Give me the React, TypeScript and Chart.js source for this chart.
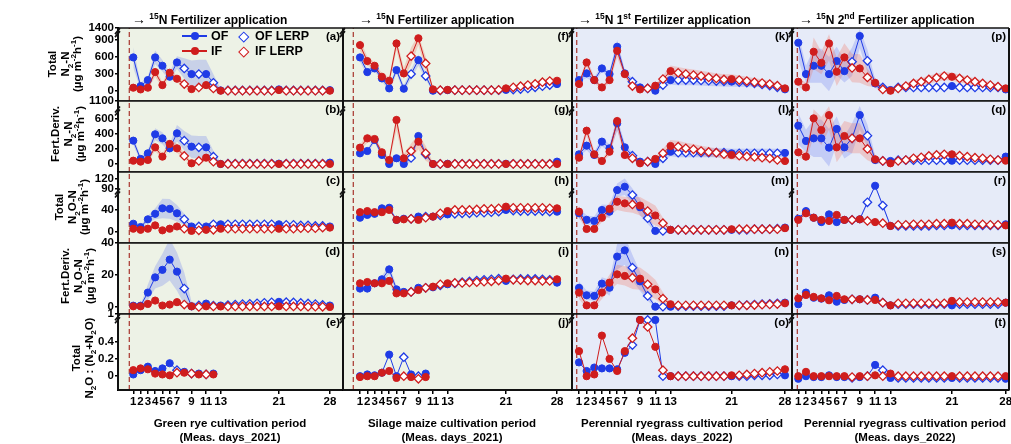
import React, { useEffect, useRef } from "react";
import { Chart, registerables } from "chart.js";
Chart.register(...registerables);

const FONT = "'Liberation Sans', Arial, Helvetica, sans-serif";
const OF_COLOR = "#1f3be6";
const IF_COLOR = "#cf1d1d";
const OF_BAND = "rgba(90,110,240,0.25)";
const IF_BAND = "rgba(240,110,90,0.28)";
const BG_2021 = "#edf2e6";
const BG_2022 = "#e6ebf8";

// ---------------- data ----------------
const DAYS = [1, 2, 3, 4, 5, 6, 7, 8, 9, 10, 11, 12, 13, 14, 15, 16, 17, 18, 19, 20, 21, 22, 23, 24, 25, 26, 27, 28];
const DAYS_E = [1, 2, 3, 4, 5, 6, 7, 8, 9, 10, 11, 12];
const DAYS_J = [1, 2, 3, 4, 5, 6, 7, 8, 9, 10];
const MEAS = [1, 2, 3, 4, 5, 6, 7, 9, 11, 13, 21, 28];
const MEAS_E = [1, 2, 3, 4, 5, 6, 8, 10, 12];
const MEAS_J = [1, 2, 3, 4, 5, 6, 8, 10];
const X_TICKS = [1, 2, 3, 4, 5, 6, 7, 9, 11, 13, 21, 28];
const FERT_DAY = [0.45, 0.08, 0.7, 0.87];

const Y_TICKS = [
  [0, 300, 600, 900, 1400],
  [0, 200, 400, 600, 1100],
  [0, 40, 90, 120],
  [0, 20, 40],
  [0, 0.2, 0.4, 1],
];

// (a) Green rye - Total N2-N
const a_OF = [584, 82, 187, 584, 438, 245, 496, 391, 292, 292, 292, 140, 5, 5, 5, 5, 5, 5, 5, 5, 23, 5, 5, 5, 5, 5, 5, 10];
const a_IF = [53, 23, 53, 327, 99, 315, 210, 117, 29, 58, 99, 41, 0, 0, 0, 0, 0, 0, 0, 0, 12, 0, 0, 0, 0, 0, 0, 0];
const a_OFsd = [180, 60, 60, 120, 100, 80, 110, 180, 240, 250, 250, 150, 30, 15, 15, 15, 15, 15, 15, 15, 15, 15, 15, 15, 15, 15, 15, 15];
const a_IFsd = [30, 20, 30, 80, 50, 60, 60, 50, 30, 30, 30, 20, 10, 5, 5, 5, 5, 5, 5, 5, 5, 5, 5, 5, 5, 5, 5, 5];
// (b)
const b_OF = [311, 67, 142, 396, 342, 209, 409, 311, 231, 222, 222, 98, 0, 5, 5, 5, 5, 5, 5, 5, 5, 5, 5, 5, 5, 5, 5, 18];
const b_IF = [44, 31, 53, 222, 98, 267, 209, 107, 9, 40, 84, 31, 0, 0, 0, 0, 0, 0, 0, 0, 0, 0, 0, 0, 0, 0, 0, 0];
const b_OFsd = [60, 30, 40, 80, 80, 60, 110, 130, 150, 150, 150, 80, 20, 10, 10, 10, 10, 10, 10, 10, 10, 10, 10, 10, 10, 10, 10, 10];
const b_IFsd = [20, 20, 30, 50, 40, 60, 60, 40, 20, 20, 20, 15, 5, 5, 5, 5, 5, 5, 5, 5, 5, 5, 5, 5, 5, 5, 5, 5];
// (c)
const c_OF = [15, 9, 23, 33, 43, 42, 34, 23, 10, 10, 10, 14, 14, 14, 14, 14, 14, 14, 14, 14, 14, 13, 13, 12, 12, 11, 11, 10];
const c_IF = [6, 4, 6, 12, 3, 6, 10, 6, 2, 3, 4, 4, 6, 6, 6, 6, 6, 6, 6, 6, 6, 6, 6, 7, 7, 7, 8, 8];
const c_OFsd = [4, 3, 6, 10, 18, 18, 15, 10, 4, 3, 3, 3, 3, 2, 2, 2, 2, 2, 2, 2, 2, 2, 2, 2, 2, 2, 2, 2];
const c_IFsd = [2, 2, 2, 3, 2, 2, 3, 2, 1, 1, 1, 1, 1, 1, 1, 1, 1, 1, 1, 1, 1, 1, 1, 1, 1, 1, 1, 1];
// (d)
const d_OF = [0.8, 0.8, 9, 18.5, 23.2, 29.6, 22.1, 11.5, 0.4, 1, 2.1, 0.9, 0.9, 1.2, 1.5, 1.8, 2, 2.3, 2.6, 2.9, 3.2, 3, 2.8, 2.5, 2.2, 1.8, 1.3, 0.9];
const d_IF = [0.4, 0.4, 1.9, 4, 0.9, 1.5, 3, 1.5, 0.4, 0, 0.4, 0.3, 0.3, 0.3, 0.3, 0.3, 0.3, 0.3, 0.3, 0.3, 0.4, 0.3, 0.3, 0.3, 0.2, 0.2, 0.1, 0];
const d_OFsd = [0.5, 0.5, 5, 7, 10, 13, 12, 10, 3, 1, 1, 0.5, 0.5, 0.5, 0.5, 0.5, 0.5, 0.5, 0.5, 0.5, 0.5, 0.5, 0.5, 0.5, 0.5, 0.5, 0.5, 0.5];
const d_IFsd = [0.5, 0.5, 1, 1.5, 0.8, 1, 1, 0.8, 0.4, 0.4, 0.4, 0.4, 0.4, 0.4, 0.4, 0.4, 0.4, 0.4, 0.4, 0.4, 0.4, 0.4, 0.4, 0.4, 0.4, 0.4, 0.4, 0.4];
// (e)
const e_OF = [0.02, 0.07, 0.11, 0.06, 0.09, 0.15, 0.07, 0.05, 0.03, 0.03, 0.02, 0.03];
const e_IF = [0.07, 0.09, 0.08, 0.03, 0.02, 0.01, 0.04, 0.04, 0.03, 0.02, 0.02, 0.02];

// (f) Silage maize
const f_OF = [584, 327, 391, 216, 41, 362, 35, 292, 537, 257, 0, 5, 10, 10, 10, 10, 10, 10, 10, 10, 15, 20, 30, 40, 60, 80, 100, 117];
const f_IF = [800, 520, 438, 245, 175, 829, 304, 607, 950, 479, 23, 10, 15, 10, 10, 10, 10, 10, 10, 15, 41, 60, 80, 100, 120, 150, 170, 175];
const f_OFsd = [80, 60, 50, 50, 60, 60, 60, 80, 100, 60, 20, 10, 10, 10, 10, 10, 10, 10, 10, 10, 15, 20, 30, 30, 40, 40, 40, 40];
const f_IFsd = [100, 80, 60, 60, 60, 120, 100, 150, 150, 120, 30, 10, 10, 10, 10, 10, 10, 10, 10, 10, 20, 30, 40, 40, 40, 50, 50, 50];
// (g)
const g_OF = [142, 173, 320, 120, 0, 76, 0, 80, 373, 129, 0, 0, 3, 3, 3, 3, 3, 3, 3, 3, 3, 3, 3, 3, 3, 3, 3, 31];
const g_IF = [218, 342, 333, 156, 53, 587, 76, 173, 298, 142, 0, 0, 0, 0, 0, 0, 0, 0, 0, 0, 0, 0, 0, 0, 0, 0, 0, 0];
const g_OFsd = [20, 30, 30, 30, 20, 40, 30, 50, 60, 50, 10, 5, 5, 5, 5, 5, 5, 5, 5, 5, 5, 5, 5, 5, 5, 5, 5, 5];
const g_IFsd = [40, 60, 40, 40, 30, 140, 60, 100, 100, 100, 20, 10, 5, 5, 5, 5, 5, 5, 5, 5, 5, 5, 5, 5, 5, 5, 5, 5];
// (h)
const h_OF = [26, 31, 33, 43, 44, 22, 24, 24, 28, 28, 28, 30, 32, 33, 34, 34, 35, 35, 36, 37, 40, 39, 38, 38, 38, 38, 37, 37];
const h_IF = [36, 38, 36, 36, 40, 22, 23, 24, 22, 26, 28, 34, 38, 40, 40, 40, 41, 42, 42, 43, 46, 44, 44, 44, 44, 44, 43, 43];
const h_OFsd = [3, 2, 2, 2, 3, 2, 2, 2, 2, 2, 2, 2, 2, 2, 2, 2, 2, 2, 2, 2, 2, 2, 2, 2, 2, 2, 2, 2];
const h_IFsd = [2, 2, 2, 2, 2, 2, 2, 2, 2, 2, 2, 2, 2, 2, 2, 2, 2, 2, 2, 2, 2, 2, 2, 2, 2, 2, 2, 2];
// (i)
const i_OF = [11.5, 11.5, 14.8, 17.3, 23.5, 11, 9.4, 9.4, 12, 12, 12.3, 13.5, 14.2, 14.8, 15.5, 16, 16.5, 17, 17.3, 17.7, 16.3, 17.3, 17.5, 17.5, 17.5, 17.3, 17, 15.2];
const i_IF = [14.8, 15.6, 14.8, 14.8, 16.3, 8.5, 8.5, 9.4, 10.6, 12, 12.7, 14.2, 14.8, 15, 15, 15.3, 15.5, 15.8, 16, 16.5, 17.7, 17, 16.8, 16.5, 16.5, 16.3, 16.3, 17.3];
const i_OFsd = [1.5, 1.5, 1.5, 2, 3, 2, 1.5, 1.5, 1.5, 1.5, 1.5, 1.5, 1.5, 1, 1, 1, 1, 1, 1, 1, 1, 1, 1, 1, 1, 1, 1, 1];
const i_IFsd = [1.5, 1.5, 1.5, 1.5, 2, 1.5, 1.5, 1.5, 1.5, 1, 1, 1, 1, 1, 1, 1, 1, 1, 1, 1, 1, 1, 1, 1, 1, 1, 1, 1];
// (j)
const j_OF = [0.0, 0.02, 0.01, 0.04, 0.25, 0.0, 0.22, 0.02, 0.0, 0.03];
const j_IF = [-0.01, 0.0, 0.0, 0.04, 0.06, -0.02, 0.0, -0.01, -0.03, -0.01];

// (k) Perennial ryegrass 1st
const k_OF = [187, 304, 187, 391, 292, 771, 304, 158, 58, 41, 0, 99, 187, 187, 187, 187, 180, 175, 170, 165, 160, 150, 140, 130, 110, 90, 60, 25];
const k_IF = [117, 496, 187, 58, 187, 700, 292, 82, 23, 41, 88, 204, 344, 315, 292, 274, 257, 234, 216, 198, 204, 187, 170, 150, 135, 117, 88, 41];
const k_OFsd = [40, 80, 50, 60, 50, 120, 60, 50, 30, 20, 20, 40, 80, 90, 90, 90, 90, 90, 90, 90, 90, 80, 70, 60, 50, 40, 30, 20];
const k_IFsd = [30, 80, 60, 30, 50, 120, 60, 40, 20, 20, 30, 60, 100, 100, 100, 100, 95, 95, 90, 90, 85, 80, 75, 70, 65, 60, 50, 40];
// (l)
const l_OF = [129, 244, 120, 298, 209, 542, 222, 111, 31, 31, 0, 76, 164, 150, 150, 150, 150, 150, 150, 150, 142, 142, 142, 142, 142, 142, 142, 147];
const l_IF = [84, 444, 129, 40, 164, 573, 120, 76, 9, 31, 67, 142, 240, 231, 209, 195, 173, 160, 150, 130, 120, 111, 100, 93, 84, 75, 53, 40];
const l_OFsd = [30, 60, 40, 60, 50, 100, 50, 40, 20, 15, 15, 40, 60, 60, 60, 60, 60, 60, 60, 60, 60, 60, 60, 60, 60, 60, 60, 40];
const l_IFsd = [30, 70, 50, 20, 50, 120, 40, 30, 15, 20, 30, 60, 80, 80, 75, 70, 70, 65, 60, 60, 60, 55, 50, 50, 45, 40, 30, 20];
// (m)
const m_OF = [34, 22, 20, 40, 37, 87, 97, 72, 45, 25, 2, 2, 4, 4, 4, 4, 4, 4, 4, 4, 4, 4, 4, 5, 5, 5, 6, 8];
const m_IF = [37, 5.5, 5.5, 26, 42, 55, 52, 50, 48, 38, 30, 16, 4, 4, 4, 4, 4, 4, 4, 4, 5, 5, 5, 5, 5, 5, 5, 7];
const m_OFsd = [10, 8, 8, 10, 12, 20, 25, 20, 15, 10, 3, 2, 1, 1, 1, 1, 1, 1, 1, 1, 1, 1, 1, 1, 1, 1, 1, 1];
const m_IFsd = [10, 4, 4, 8, 12, 15, 15, 15, 18, 18, 18, 10, 2, 1, 1, 1, 1, 1, 1, 1, 1, 1, 1, 1, 1, 1, 1, 1];
// (n)
const n_OF = [12, 7.3, 6.9, 14.6, 12, 31.5, 35.4, 24.6, 16, 6.9, 0.2, 0.2, 0.2, 0.5, 0.5, 0.5, 0.5, 0.5, 0.5, 0.5, 1, 1, 1.2, 1.5, 1.8, 2, 2.3, 2.7];
const n_IF = [9, 1, 1, 9, 15.2, 20.4, 19.4, 18.3, 17.7, 14.2, 11, 5.2, 1.7, 1, 1, 1, 1, 1, 1, 1, 1, 1, 1, 1.2, 1.4, 1.6, 1.8, 2.3];
const n_OFsd = [4, 3, 3, 4, 5, 8, 9, 8, 6, 3, 0.5, 0.5, 0.5, 0.5, 0.5, 0.5, 0.5, 0.5, 0.5, 0.5, 0.5, 0.5, 0.5, 0.5, 0.5, 0.5, 0.5, 0.5];
const n_IFsd = [4, 2, 2, 4, 5, 6, 6, 7, 7, 7, 6, 4, 1, 0.5, 0.5, 0.5, 0.5, 0.5, 0.5, 0.5, 0.5, 0.5, 0.5, 0.5, 0.5, 0.5, 0.5, 0.5];
// (o)
const o_OF = [0.16, 0.06, 0.1, 0.09, 0.09, 0.08, 0.27, 0.36, 0.77, 0.77, 0.77, 0.0, 0.0, 0.0, 0.0, 0.0, 0.0, 0.0, 0.0, 0.0, 0.0, 0.0, 0.0, 0.01, 0.01, 0.01, 0.02, 0.01];
const o_IF = [0.29, 0.0, 0.02, 0.47, 0.2, 0.06, 0.29, 0.44, 0.77, 0.57, 0.34, 0.07, 0.0, 0.0, 0.0, 0.0, 0.0, 0.0, 0.0, 0.0, 0.01, 0.01, 0.02, 0.03, 0.04, 0.05, 0.06, 0.08];

// (p) Perennial ryegrass 2nd
const p_OF = [841, 292, 438, 438, 292, 520, 344, 508, 1050, 525, 128, 58, 12, 58, 58, 58, 58, 58, 58, 58, 82, 58, 58, 58, 58, 58, 58, 23];
const p_IF = [158, 58, 683, 490, 829, 333, 584, 400, 391, 234, 140, 23, 0, 41, 82, 128, 158, 198, 228, 257, 245, 216, 187, 158, 128, 99, 70, 41];
const p_OFsd = [300, 150, 300, 300, 300, 250, 200, 250, 300, 200, 80, 40, 20, 30, 30, 30, 30, 30, 30, 30, 30, 30, 30, 30, 30, 30, 30, 20];
const p_IFsd = [80, 80, 300, 200, 300, 250, 250, 250, 250, 150, 80, 30, 10, 40, 50, 60, 60, 70, 70, 70, 70, 70, 60, 60, 50, 50, 40, 30];
// (q)
const q_OF = [511, 307, 342, 342, 218, 467, 222, 342, 711, 378, 53, 40, 40, 50, 50, 50, 50, 50, 50, 50, 44, 50, 50, 50, 50, 50, 50, 98];
const q_IF = [156, 98, 618, 453, 707, 222, 373, 342, 342, 200, 62, 40, 9, 40, 53, 76, 89, 107, 120, 129, 129, 111, 98, 84, 76, 62, 53, 44];
const q_OFsd = [250, 150, 250, 250, 250, 200, 150, 200, 250, 150, 60, 20, 15, 20, 20, 20, 20, 20, 20, 20, 20, 20, 20, 20, 20, 20, 20, 20];
const q_IFsd = [60, 60, 250, 200, 250, 200, 200, 200, 200, 150, 60, 20, 10, 20, 25, 30, 30, 35, 35, 35, 35, 35, 30, 30, 25, 25, 20, 20];
// (r)
const r_OF = [24, 38, 26, 18, 32, 18, 22, 22, 23, 54, 100, 48, 11, 11, 11, 11, 11, 11, 12, 12, 12, 12, 12, 12, 12, 12, 12, 14];
const r_IF = [22, 34, 26, 22, 20, 31, 22, 22, 23, 20, 18, 16, 11, 13, 13, 14, 14, 14, 15, 15, 17, 15, 15, 14, 14, 13, 13, 12];
const r_OFsd = [3, 4, 3, 3, 3, 3, 3, 3, 3, 3, 3, 3, 2, 2, 2, 2, 2, 2, 2, 2, 2, 2, 2, 2, 2, 2, 2, 2];
const r_IFsd = [3, 4, 3, 3, 3, 4, 4, 4, 4, 4, 3, 3, 2, 2, 2, 2, 2, 2, 2, 2, 2, 2, 2, 2, 2, 2, 2, 2];
// (s)
const s_OF = [1.7, 9, 5.8, 5.2, 7.3, 3.3, 4.4, 4.8, 4.8, 4.4, 5.8, 2.7, 1, 1.7, 1.7, 1.7, 1.7, 1.7, 1.7, 1.7, 1, 1.7, 1.7, 1.7, 1.7, 1.7, 1.7, 2.7];
const s_IF = [5.4, 7.5, 6.3, 5.4, 4.2, 6.9, 4.8, 4.8, 4.8, 4.4, 4.4, 2.7, 1, 2.3, 2.3, 2.3, 2.3, 2.3, 2.3, 2.3, 3.8, 3.1, 3.1, 3.1, 3.1, 3.1, 3.1, 2.7];
const s_OFsd = [1, 1, 1, 1, 1, 1, 1, 1, 1, 1, 1, 1, 1, 1, 1, 1, 1, 1, 1, 1, 1, 1, 1, 1, 1, 1, 1, 1];
const s_IFsd = [1, 1, 1, 1, 1, 1, 1, 1, 1, 1, 1, 1, 1, 1, 1, 1, 1, 1, 1, 1, 1, 1, 1, 1, 1, 1, 1, 1];
// (t)
const t_OF = [-0.03, 0.0, -0.01, -0.01, 0.01, -0.01, -0.01, -0.02, -0.01, 0.0, 0.13, 0.07, -0.02, -0.02, -0.02, -0.02, -0.02, -0.02, -0.02, -0.02, -0.02, -0.02, -0.02, -0.02, -0.02, -0.02, -0.02, -0.03];
const t_IF = [0.0, 0.05, 0.0, 0.0, 0.0, 0.0, 0.0, -0.01, 0.0, 0.0, 0.01, 0.0, 0.03, 0.0, 0.0, 0.0, 0.0, 0.0, 0.0, 0.0, 0.0, 0.0, 0.0, 0.0, 0.0, 0.0, 0.0, 0.0];

// ---------------- layout / scale config ----------------
const COL_X = [[118, 343], [343, 572], [572, 792], [792, 1009]];
const ROW_Y = [[28, 101], [101, 172], [172, 243], [243, 314], [314, 390]];
const X_RANGE = [[-1.1, 29.8], [-1.33, 30.05], [0.08, 28.92], [0.18, 28.43]];
const Y_RANGE = [[-180, 1100], [-107, 840], [-20, 109], [-4.4, 40], [-0.16, 0.72]];
const BREAK_D = [1010, 700, 70, null, 0.66];
// broken-axis display transforms (one per row)
const TRANSFORMS = [
  (v: number) => (v <= 900 ? v : 900 + (v - 900) * 0.4),
  (v: number) => (v <= 600 ? v : 600 + (v - 600) * 0.48),
  (v: number) => (v <= 60 ? v : 60 + (v - 60) * 0.6),
  (v: number) => v,
  (v: number) => (v <= 0.6 ? v : 0.6 + (v - 0.6) * 0.3),
];

type PanelSpec = {
  id: string; col: number; row: number;
  of: number[]; inf: number[]; ofSd: number[] | null; ifSd: number[] | null;
  days: number[]; meas: number[];
};

const PANELS: PanelSpec[] = [
  { id: "a", col: 0, row: 0, of: a_OF, inf: a_IF, ofSd: a_OFsd, ifSd: a_IFsd, days: DAYS, meas: MEAS },
  { id: "b", col: 0, row: 1, of: b_OF, inf: b_IF, ofSd: b_OFsd, ifSd: b_IFsd, days: DAYS, meas: MEAS },
  { id: "c", col: 0, row: 2, of: c_OF, inf: c_IF, ofSd: c_OFsd, ifSd: c_IFsd, days: DAYS, meas: MEAS },
  { id: "d", col: 0, row: 3, of: d_OF, inf: d_IF, ofSd: d_OFsd, ifSd: d_IFsd, days: DAYS, meas: MEAS },
  { id: "e", col: 0, row: 4, of: e_OF, inf: e_IF, ofSd: null, ifSd: null, days: DAYS_E, meas: MEAS_E },
  { id: "f", col: 1, row: 0, of: f_OF, inf: f_IF, ofSd: f_OFsd, ifSd: f_IFsd, days: DAYS, meas: MEAS },
  { id: "g", col: 1, row: 1, of: g_OF, inf: g_IF, ofSd: g_OFsd, ifSd: g_IFsd, days: DAYS, meas: MEAS },
  { id: "h", col: 1, row: 2, of: h_OF, inf: h_IF, ofSd: h_OFsd, ifSd: h_IFsd, days: DAYS, meas: MEAS },
  { id: "i", col: 1, row: 3, of: i_OF, inf: i_IF, ofSd: i_OFsd, ifSd: i_IFsd, days: DAYS, meas: MEAS },
  { id: "j", col: 1, row: 4, of: j_OF, inf: j_IF, ofSd: null, ifSd: null, days: DAYS_J, meas: MEAS_J },
  { id: "k", col: 2, row: 0, of: k_OF, inf: k_IF, ofSd: k_OFsd, ifSd: k_IFsd, days: DAYS, meas: MEAS },
  { id: "l", col: 2, row: 1, of: l_OF, inf: l_IF, ofSd: l_OFsd, ifSd: l_IFsd, days: DAYS, meas: MEAS },
  { id: "m", col: 2, row: 2, of: m_OF, inf: m_IF, ofSd: m_OFsd, ifSd: m_IFsd, days: DAYS, meas: MEAS },
  { id: "n", col: 2, row: 3, of: n_OF, inf: n_IF, ofSd: n_OFsd, ifSd: n_IFsd, days: DAYS, meas: MEAS },
  { id: "o", col: 2, row: 4, of: o_OF, inf: o_IF, ofSd: null, ifSd: null, days: DAYS, meas: MEAS },
  { id: "p", col: 3, row: 0, of: p_OF, inf: p_IF, ofSd: p_OFsd, ifSd: p_IFsd, days: DAYS, meas: MEAS },
  { id: "q", col: 3, row: 1, of: q_OF, inf: q_IF, ofSd: q_OFsd, ifSd: q_IFsd, days: DAYS, meas: MEAS },
  { id: "r", col: 3, row: 2, of: r_OF, inf: r_IF, ofSd: r_OFsd, ifSd: r_IFsd, days: DAYS, meas: MEAS },
  { id: "s", col: 3, row: 3, of: s_OF, inf: s_IF, ofSd: s_OFsd, ifSd: s_IFsd, days: DAYS, meas: MEAS },
  { id: "t", col: 3, row: 4, of: t_OF, inf: t_IF, ofSd: null, ifSd: null, days: DAYS, meas: MEAS },
];

const TICK_FONT = { family: FONT, size: 11.5, weight: "bold" as const };

function buildDatasets(p: PanelSpec) {
  const T = TRANSFORMS[p.row];
  const ds: any[] = [];
  const band = (vals: number[], sd: number[] | null, color: string, order: number) => {
    if (!sd) return;
    ds.push({
      data: p.days.map((d, i) => ({ x: d, y: T(vals[i] + sd[i]) })),
      borderWidth: 0, borderColor: "transparent", pointRadius: 0, fill: false, order,
    });
    ds.push({
      data: p.days.map((d, i) => ({ x: d, y: T(vals[i] - sd[i]) })),
      borderWidth: 0, borderColor: "transparent", pointRadius: 0, fill: "-1", backgroundColor: color, order,
    });
  };
  band(p.of, p.ofSd, OF_BAND, 6);
  band(p.inf, p.ifSd, IF_BAND, 5);
  const yr = Y_RANGE[p.row];
  ds.push({
    data: [{ x: FERT_DAY[p.col], y: yr[0] }, { x: FERT_DAY[p.col], y: yr[1] }],
    borderColor: "#a8342c", borderWidth: 1.2, borderDash: [5, 3], pointRadius: 0, fill: false, order: 4,
  });
  const main = (vals: number[], color: string, order: number) => {
    const isM = p.days.map((d) => p.meas.includes(d));
    ds.push({
      data: p.days.map((d, i) => ({ x: d, y: T(vals[i]) })),
      borderColor: color, borderWidth: 1, fill: false, tension: 0, order,
      pointStyle: isM.map((m) => (m ? "circle" : "rectRot")),
      pointRadius: isM.map((m) => (m ? 3.6 : 4.2)),
      pointBackgroundColor: isM.map((m) => (m ? color : "#ffffff")),
      pointBorderColor: color,
      pointBorderWidth: isM.map((m) => (m ? 1 : 1.3)),
    });
  };
  main(p.of, OF_COLOR, 1);
  main(p.inf, IF_COLOR, 0);
  return ds;
}

function Panel({ p }: { p: PanelSpec }) {
  const ref = useRef<HTMLCanvasElement | null>(null);
  const [x0, x1] = COL_X[p.col];
  const [y0, y1] = ROW_Y[p.row];
  const showY = p.col === 0;
  const showX = p.row === 4;
  const PAD = 10;
  const L = showY ? 70 : PAD;
  const B = showX ? 30 : PAD;
  const W = x1 - x0 + L + PAD;
  const H = y1 - y0 + PAD + B;

  useEffect(() => {
    if (!ref.current) return;
    const T = TRANSFORMS[p.row];
    const yTicks = Y_TICKS[p.row];
    const bg = p.col < 2 ? BG_2021 : BG_2022;
    const deco = {
      id: "deco" + p.id,
      beforeDraw(chart: any) {
        const { ctx, chartArea: a } = chart;
        ctx.save();
        ctx.fillStyle = bg;
        ctx.fillRect(a.left, a.top, a.right - a.left, a.bottom - a.top);
        ctx.restore();
      },
      afterDraw(chart: any) {
        const { ctx, chartArea: a } = chart;
        ctx.save();
        ctx.strokeStyle = "#111";
        ctx.lineWidth = 1.5;
        ctx.beginPath();
        ctx.moveTo(a.left, a.top); ctx.lineTo(a.right, a.top);
        ctx.stroke();
        ctx.lineWidth = showX ? 2 : 1.5;
        ctx.beginPath();
        ctx.moveTo(a.left, a.bottom); ctx.lineTo(a.right, a.bottom);
        ctx.stroke();
        ctx.lineWidth = 2;
        ctx.beginPath();
        ctx.moveTo(a.left, a.top); ctx.lineTo(a.left, a.bottom);
        ctx.moveTo(a.right, a.top); ctx.lineTo(a.right, a.bottom);
        ctx.stroke();
        const bd = BREAK_D[p.row];
        if (bd !== null) {
          const y = chart.scales.y.getPixelForValue(bd);
          const x = a.left;
          ctx.lineWidth = 1.6;
          ctx.beginPath();
          ctx.moveTo(x - 3, y + 1); ctx.lineTo(x + 2, y - 5);
          ctx.moveTo(x - 3, y + 4); ctx.lineTo(x + 2, y - 2);
          ctx.stroke();
        }
        ctx.restore();
      },
    };
    const chart = new Chart(ref.current, {
      type: "line",
      data: { datasets: buildDatasets(p) },
      options: {
        responsive: false,
        animation: false,
        devicePixelRatio: 1,
        events: [],
        clip: 0 as any,
        layout: { padding: { left: showY ? 0 : PAD, right: PAD, top: PAD, bottom: showX ? 0 : PAD } },
        plugins: { legend: { display: false }, tooltip: { enabled: false } },
        scales: {
          x: {
            type: "linear",
            min: X_RANGE[p.col][0],
            max: X_RANGE[p.col][1],
            display: showX,
            bounds: "data",
            afterBuildTicks: (s: any) => { s.ticks = X_TICKS.map((v) => ({ value: v })); },
            afterFit: showX ? (s: any) => { s.height = B; } : undefined,
            grid: { display: true, drawOnChartArea: false, drawTicks: true, tickLength: 4, color: "#000", lineWidth: 1.5 },
            border: { display: true, color: "#000", width: 2 },
            ticks: {
              autoSkip: false, maxRotation: 0, minRotation: 0, padding: 1,
              color: "#000", font: TICK_FONT,
              callback: (v: any) => String(v),
            },
          },
          y: {
            type: "linear",
            min: Y_RANGE[p.row][0],
            max: Y_RANGE[p.row][1],
            display: showY,
            bounds: "data",
            afterBuildTicks: (s: any) => { s.ticks = yTicks.map((v) => ({ value: T(v) })); },
            afterFit: showY ? (s: any) => { s.width = L; } : undefined,
            grid: { display: true, drawOnChartArea: false, drawTicks: true, tickLength: 3, color: "#000", lineWidth: 1.5 },
            border: { display: true, color: "#000", width: 2 },
            ticks: {
              autoSkip: false, padding: 1, color: "#000", font: TICK_FONT,
              callback: (_v: any, i: number) => String(yTicks[i]),
            },
          },
        },
      } as any,
      plugins: [deco],
    });
    return () => chart.destroy();
  }, []);

  return (
    <canvas
      ref={ref}
      width={W}
      height={H}
      style={{ position: "absolute", left: x0 - L, top: y0 - PAD, width: W, height: H }}
    />
  );
}

const SUB = { fontSize: "70%", verticalAlign: "sub", lineHeight: 0 } as const;
const SUP = { fontSize: "70%", verticalAlign: "super", lineHeight: 0 } as const;
const UNIT = (
  <>(µg m<span style={SUP}>-2</span>h<span style={SUP}>-1</span>)</>
);

function YTitle({ cx, cy, lines }: { cx: number; cy: number; lines: React.ReactNode[] }) {
  return (
    <div
      style={{
        position: "absolute", left: cx, top: cy,
        transform: "translate(-50%,-50%) rotate(-90deg)",
        textAlign: "center", whiteSpace: "nowrap", fontSize: 11.5, lineHeight: "12.5px",
      }}
    >
      {lines.map((l, i) => (
        <div key={i}>{l}</div>
      ))}
    </div>
  );
}

function LegendRow({ y, color, name }: { y: number; color: string; name: string }) {
  return (
    <>
      <div style={{ position: "absolute", left: 182, top: y - 0.6, width: 25, height: 1.2, background: color }} />
      <div style={{ position: "absolute", left: 190.5, top: y - 4, width: 8, height: 8, borderRadius: "50%", background: color }} />
      <div style={{ position: "absolute", left: 211, top: y - 8, lineHeight: "16px", fontSize: 12.5 }}>{name}</div>
      <div
        style={{
          position: "absolute", left: 239.5, top: y - 3.5, width: 5.5, height: 5.5,
          border: `1.4px solid ${color}`, background: "#fff", transform: "rotate(45deg)",
        }}
      />
      <div style={{ position: "absolute", left: 255, top: y - 8, lineHeight: "16px", fontSize: 12.5 }}>{name} LERP</div>
    </>
  );
}

const HEADERS = [
  { left: 132, node: <><sup style={SUP}>15</sup>N Fertilizer application</> },
  { left: 359, node: <><sup style={SUP}>15</sup>N Fertilizer application</> },
  { left: 578, node: <><sup style={SUP}>15</sup>N 1<sup style={SUP}>st</sup> Fertilizer application</> },
  { left: 799, node: <><sup style={SUP}>15</sup>N 2<sup style={SUP}>nd</sup> Fertilizer application</> },
];

const X_TITLES = [
  { cx: 230, l1: "Green rye cultivation period", l2: "(Meas. days_2021)" },
  { cx: 452, l1: "Silage maize cultivation period", l2: "(Meas. days_2021)" },
  { cx: 682, l1: "Perennial ryegrass cultivation period", l2: "(Meas. days_2022)" },
  { cx: 905, l1: "Perennial ryegrass cultivation period", l2: "(Meas. days_2022)" },
];

export default function App() {
  return (
    <div
      style={{
        position: "absolute", left: 0, top: 0, width: 1011, height: 444, overflow: "hidden",
        background: "#fff", fontFamily: FONT, fontWeight: "bold", color: "#000",
      }}
    >
      {PANELS.map((p) => (
        <Panel key={p.id} p={p} />
      ))}

      {PANELS.map((p) => (
        <div
          key={"lab" + p.id}
          style={{
            position: "absolute", left: COL_X[p.col][1] - 40, width: 37, top: ROW_Y[p.row][0] + 1,
            textAlign: "right", fontSize: 11.5, lineHeight: "14px",
          }}
        >
          ({p.id})
        </div>
      ))}

      {HEADERS.map((h, i) => (
        <div key={"h" + i} style={{ position: "absolute", left: h.left, top: 11, fontSize: 12, lineHeight: "16px", whiteSpace: "nowrap" }}>
          <span style={{ fontSize: 14 }}>→</span> {h.node}
        </div>
      ))}

      <LegendRow y={36} color={OF_COLOR} name="OF" />
      <LegendRow y={51} color={IF_COLOR} name="IF" />

      <YTitle cx={65} cy={64} lines={["Total", <>N<span style={SUB}>2</span>-N</>, UNIT]} />
      <YTitle cx={68} cy={134} lines={["Fert.Deriv.", <>N<span style={SUB}>2</span>-N</>, UNIT]} />
      <YTitle cx={72} cy={207} lines={["Total", <>N<span style={SUB}>2</span>O-N</>, UNIT]} />
      <YTitle cx={78} cy={276} lines={["Fert.Deriv.", <>N<span style={SUB}>2</span>O-N</>, UNIT]} />
      <YTitle
        cx={82}
        cy={358}
        lines={["Total", <>N<span style={SUB}>2</span>O : (N<span style={SUB}>2</span>+N<span style={SUB}>2</span>O)</>]}
      />

      {X_TITLES.map((t, i) => (
        <div key={"xt" + i} style={{ position: "absolute", left: t.cx - 120, width: 240, top: 416, textAlign: "center", fontSize: 11.5, lineHeight: "14px", whiteSpace: "nowrap" }}>
          <div>{t.l1}</div>
          <div>{t.l2}</div>
        </div>
      ))}
    </div>
  );
}
